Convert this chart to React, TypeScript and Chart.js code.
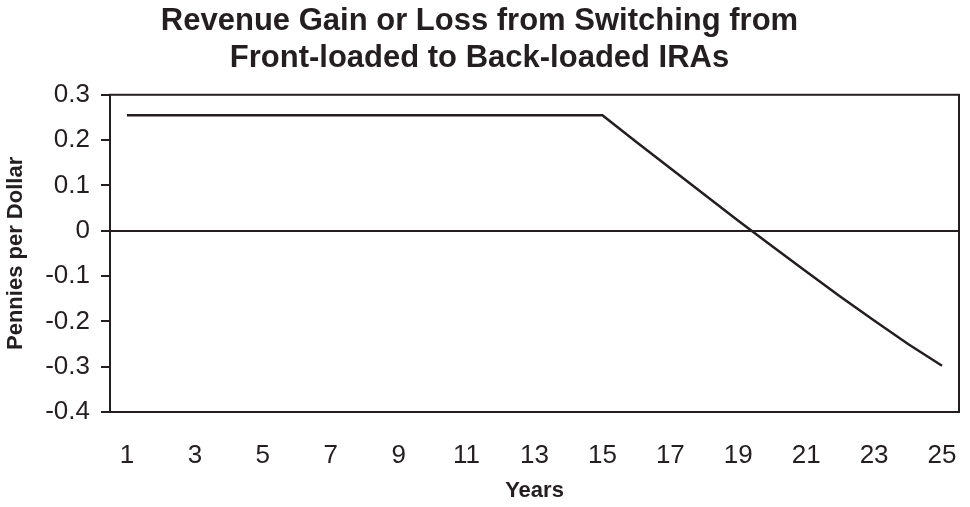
import React, { useEffect, useRef } from "react";
import { Chart, registerables } from "chart.js";

Chart.register(...registerables);

const years = [
  "1", "2", "3", "4", "5", "6", "7", "8", "9", "10", "11", "12", "13",
  "14", "15", "16", "17", "18", "19", "20", "21", "22", "23", "24", "25",
];
const penniesPerDollar = [
  0.255, 0.255, 0.255, 0.255, 0.255, 0.255, 0.255, 0.255, 0.255, 0.255,
  0.255, 0.255, 0.255, 0.255, 0.255, 0.196, 0.138, 0.08, 0.022, -0.034,
  -0.09, -0.145, -0.198, -0.25, -0.298,
];
const titleLines = [
  "Revenue Gain or Loss from Switching from",
  "Front-loaded to Back-loaded IRAs",
];
const yMin = -0.4;
const yMax = 0.3;
const yStep = 0.1;

const INK = "#231f20";
const FONT = "'Liberation Sans', Arial, Helvetica, sans-serif";

// Outlines the plotting area so the frame closes on the top and right sides.
const frame = {
  id: "frame",
  afterDatasetsDraw(chart: Chart) {
    const { ctx, chartArea } = chart;
    ctx.save();
    ctx.strokeStyle = INK;
    ctx.lineWidth = 2;
    ctx.strokeRect(chartArea.left, chartArea.top, chartArea.right - chartArea.left, chartArea.bottom - chartArea.top);
    ctx.restore();
  },
};

export default function App() {
  const ref = useRef<HTMLCanvasElement | null>(null);

  useEffect(() => {
    if (!ref.current) return;
    const chart = new Chart(ref.current, {
      type: "line",
      data: {
        labels: years,
        datasets: [
          {
            data: penniesPerDollar,
            borderColor: INK,
            borderWidth: 2.5,
            pointRadius: 0,
            tension: 0,
            fill: false,
          },
        ],
      },
      options: {
        animation: false,
        responsive: false,
        layout: { padding: { left: 0, right: 11, top: 0, bottom: 0 } },
        plugins: {
          legend: { display: false },
          tooltip: { enabled: false },
          title: {
            display: true,
            text: titleLines,
            color: INK,
            font: { family: FONT, size: 31, weight: "bold", lineHeight: 1.19 },
            padding: { top: 3, bottom: 18 },
          },
        },
        scales: {
          x: {
            offset: true,
            grid: {
              display: true,
              drawOnChartArea: false,
              drawTicks: true,
              tickLength: 28,
              color: "rgba(0,0,0,0)",
              tickColor: "rgba(0,0,0,0)",
            },
            border: { display: true, color: INK, width: 2 },
            ticks: {
              color: INK,
              font: { family: FONT, size: 26 },
              padding: 0,
              autoSkip: false,
              maxRotation: 0,
              callback: (_v: any, i: number) => (i % 2 === 0 ? years[i] : ""),
            },
            title: {
              display: true,
              text: "Years",
              color: INK,
              font: { family: FONT, size: 22, weight: "bold" },
              padding: { top: 0, bottom: 3 },
            },
            afterFit: (s: any) => {
              s.height = 95;
            },
          },
          y: {
            min: yMin,
            max: yMax,
            grid: {
              display: true,
              drawOnChartArea: true,
              drawTicks: true,
              tickLength: 9,
              tickColor: INK,
              lineWidth: 2,
              color: (c: any) => (c.tick && Math.abs(c.tick.value) < 1e-9 ? INK : "rgba(0,0,0,0)"),
            },
            border: { display: true, color: INK, width: 2 },
            ticks: {
              stepSize: yStep,
              color: INK,
              font: { family: FONT, size: 26 },
              padding: 11,
              callback: (v: any) => {
                const n = Math.round(Number(v) * 10) / 10;
                return n === 0 ? "0" : n.toFixed(1);
              },
            },
            title: {
              display: true,
              text: "Pennies per Dollar",
              color: INK,
              font: { family: FONT, size: 22, weight: "bold" },
              padding: { top: 3, bottom: 0 },
            },
            afterFit: (s: any) => {
              s.width = 110;
            },
          },
        },
      },
      plugins: [frame],
    });
    return () => chart.destroy();
  }, []);

  return (
    <div style={{ position: "absolute", left: 0, top: 0, width: 970, height: 507, background: "#fff" }}>
      <canvas ref={ref} width={970} height={507} />
    </div>
  );
}
